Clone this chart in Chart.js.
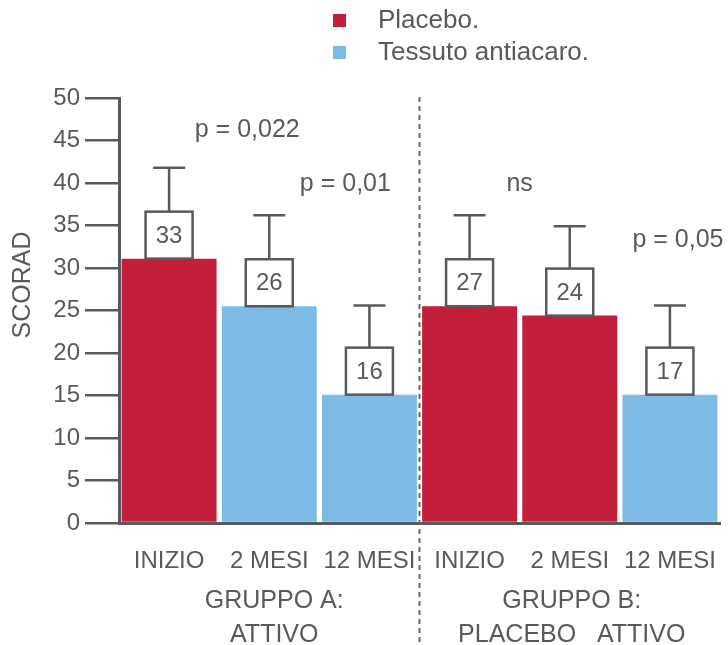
<!DOCTYPE html>
<html>
<head>
<meta charset="utf-8">
<script src="https://cdn.jsdelivr.net/npm/chart.js@4/dist/chart.umd.min.js"></script>
<style>
  body { margin: 0; background: #fff; }
  #wrap { position: relative; width: 728px; height: 645px; }
</style>
</head>
<body>
<div id="wrap"><canvas id="scorad-chart"></canvas></div>
<script>
const categories = ["INIZIO", "2 MESI", "12 MESI", "INIZIO", "2 MESI", "12 MESI"];
const placeboValues = [31.1, null, null, 25.5, 24.4, null];
const activeValues = [null, 25.5, 15.1, null, null, 15.1];
const errorTops = [41.8, 36.2, 25.6, 36.2, 34.9, 25.6];
const boxLabels = ["33", "26", "16", "27", "24", "17"];
const yTicks = [0, 5, 10, 15, 20, 25, 30, 35, 40, 45, 50];

const pLabels = ["p = 0,022", "p = 0,01", "ns", "p = 0,05"];
const pAtIndex = [0.78, 1.76, 3.5, 5.08];
const pAtValue = [46.2, 39.9, 39.9, 33.3];

const groupLines = [["GRUPPO A:", "ATTIVO"], ["GRUPPO B:", "PLACEBO   ATTIVO"]];
const groupAtIndex = [1.05, 4.02];

const GREY = "#58595B";
const FONT = "'Liberation Sans', Helvetica, Arial, sans-serif";

const overlay = {
  id: "overlay",
  afterDatasetsDraw(chart) {
    const { ctx, scales: { x, y }, chartArea } = chart;
    ctx.save();

    // dashed separator between the two groups
    const sx = x.getPixelForValue(2.5);
    ctx.strokeStyle = "#666";
    ctx.lineWidth = 2;
    ctx.setLineDash([5, 4]);
    ctx.beginPath();
    ctx.moveTo(sx, chartArea.top - 1);
    ctx.lineTo(sx, chart.height);
    ctx.stroke();
    ctx.setLineDash([]);

    // value boxes + error bars
    ctx.strokeStyle = GREY;
    ctx.lineWidth = 2.5;
    ctx.font = "24px " + FONT;
    ctx.textAlign = "center";
    ctx.textBaseline = "middle";
    categories.forEach((c, i) => {
      const v = placeboValues[i] != null ? placeboValues[i] : activeValues[i];
      const cx = x.getPixelForValue(i);
      const top = y.getPixelForValue(v);
      const bs = 47;
      ctx.fillStyle = "#fff";
      ctx.fillRect(cx - bs / 2, top - bs, bs, bs);
      ctx.strokeRect(cx - bs / 2, top - bs, bs, bs);
      ctx.fillStyle = GREY;
      ctx.fillText(boxLabels[i], cx, top - bs / 2 + 1);
      const ey = y.getPixelForValue(errorTops[i]);
      ctx.beginPath();
      ctx.moveTo(cx, top - bs);
      ctx.lineTo(cx, ey);
      ctx.moveTo(cx - 16, ey);
      ctx.lineTo(cx + 16, ey);
      ctx.stroke();
    });

    // category labels under the axis
    ctx.font = "24px " + FONT;
    categories.forEach((c, i) => {
      ctx.fillText(c, x.getPixelForValue(i), chartArea.bottom + 38);
    });

    // significance labels
    ctx.font = "25px " + FONT;
    pLabels.forEach((t, i) => {
      ctx.fillText(t, x.getPixelForValue(pAtIndex[i]), y.getPixelForValue(pAtValue[i]));
    });

    // group labels
    groupLines.forEach((lines, g) => {
      const gx = x.getPixelForValue(groupAtIndex[g]);
      lines.forEach((t, k) => ctx.fillText(t, gx, chartArea.bottom + 78 + k * 34));
    });

    // y axis title
    ctx.save();
    ctx.translate(23, 285);
    ctx.rotate(-Math.PI / 2);
    ctx.fillText("SCORAD", 0, 0);
    ctx.restore();

    // legend
    ctx.font = "26px " + FONT;
    chart.data.datasets.forEach((ds, i) => {
      const ly = 20 + i * 32;
      ctx.fillStyle = ds.backgroundColor;
      ctx.fillRect(333, ly - 6, 13, 13);
      ctx.fillStyle = GREY;
      ctx.textAlign = "left";
      ctx.fillText(ds.label, 378, ly + 1);
    });

    ctx.restore();
  },
};

const config = {
  type: "bar",
  data: {
    labels: categories,
    datasets: [
      {
        label: "Placebo.",
        data: placeboValues,
        backgroundColor: "#C31E3B",
        grouped: false,
        barPercentage: 0.948,
        categoryPercentage: 1,
      },
      {
        label: "Tessuto antiacaro.",
        data: activeValues,
        backgroundColor: "#7BBBE5",
        grouped: false,
        barPercentage: 0.948,
        categoryPercentage: 1,
      },
    ],
  },
  options: {
    responsive: true,
    maintainAspectRatio: false,
    animation: false,
    layout: { padding: { top: 98, right: 8, left: 0, bottom: 0 } },
    plugins: {
      legend: { display: false },
      tooltip: { enabled: false },
    },
    scales: {
      x: {
        ticks: { display: false },
        grid: { display: false, drawTicks: false },
        border: { color: GREY, width: 3 },
        afterFit(scale) { scale.height = 122; },
      },
      y: {
        min: 0,
        max: 50,
        afterBuildTicks(scale) { scale.ticks = yTicks.map(v => ({ value: v })); },
        ticks: {
          color: GREY,
          font: { family: FONT, size: 24 },
          padding: 5,
        },
        grid: {
          drawOnChartArea: false,
          drawTicks: true,
          tickLength: 34,
          color: GREY,
          lineWidth: 2.5,
        },
        border: { color: GREY, width: 3 },
        afterFit(scale) { scale.width = 119; },
      },
    },
  },
  plugins: [overlay],
};

new Chart(document.getElementById("scorad-chart").getContext("2d"), config);
</script>
</body>
</html>
